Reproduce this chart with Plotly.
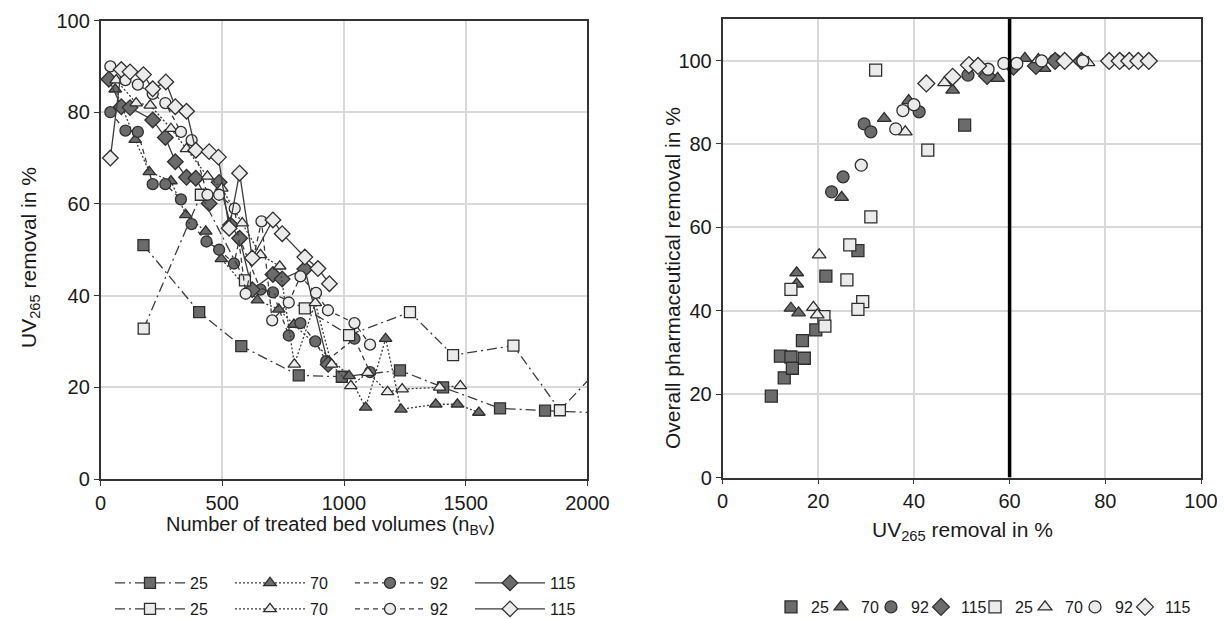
import plotly.graph_objects as go

# ---------------- Left panel: UV265 removal vs treated bed volumes ----------------
f25_x = [176, 405, 578, 814, 991, 1230, 1407, 1641, 1826, 2100]
f25_y = [51, 36.4, 29, 22.6, 22.3, 23.7, 20, 15.4, 14.9, 14.3]
o25_x = [177, 412, 593, 839, 1021, 1271, 1448, 1696, 1887, 2100]
o25_y = [32.8, 62, 43.3, 37.2, 31.4, 36.4, 27, 29.1, 15, 27]

f70_x = [60, 142, 200, 289, 350, 432, 496, 644, 732, 794, 1021, 1089, 1171, 1234, 1377, 1466, 1554]
f70_y = [85, 74, 67, 65, 57.6, 54, 48, 39, 37, 33.7, 22.5, 15.6, 30.6, 15.2, 16.3, 16.3, 14.5]
o70_x = [64, 146, 204, 289, 353, 439, 498, 582, 657, 736, 796, 882, 949, 1028, 1098, 1179, 1239, 1393, 1478]
o70_y = [87, 82, 81.5, 76.4, 72, 66, 63.4, 55.8, 48.9, 46.4, 25, 38.4, 25, 20.3, 23.2, 19, 19.6, 20, 20.3]

f92_x = [40, 102, 153, 214, 266, 330, 374, 435, 487, 548, 571, 657, 708, 773, 821, 882, 927, 1043, 1107]
f92_y = [80, 76, 75.7, 64.3, 64.3, 61, 55.6, 51.8, 50, 47, 52.5, 41.3, 40.7, 31.3, 34, 30, 25.7, 30.6, 23.3]
o92_x = [40, 102, 153, 214, 266, 330, 374, 439, 487, 551, 596, 661, 705, 773, 821, 885, 934, 1043, 1107]
o92_y = [90, 87, 86, 84, 82, 75.7, 73.9, 62, 62, 59, 40.4, 56.2, 34.6, 38.5, 44.2, 40.6, 36.8, 34, 29.3]

f115_x = [34, 85, 121, 214, 266, 307, 353, 391, 446, 487, 534, 571, 623, 708, 746, 839, 935]
f115_y = [87.2, 81.2, 81, 78.3, 74.5, 69.2, 65.8, 65.6, 60.1, 64.7, 55.4, 52.5, 41.3, 44.6, 43.6, 45.8, 25]
o115_x = [40, 85, 121, 176, 214, 268, 307, 353, 391, 446, 484, 528, 571, 623, 708, 746, 839, 893, 940]
o115_y = [70, 89.3, 88.8, 88.2, 85.1, 86.6, 81.2, 80.2, 71.7, 71.4, 70.2, 54.7, 66.7, 48.2, 56.5, 53.5, 48.4, 45.9, 42.6]

# ---------------- Right panel: pharmaceutical removal vs UV265 removal ----------------
rf25_x = [10.2, 12.9, 12.1, 14.3, 14.6, 17.1, 16.7, 19.5, 21.6, 28.3, 50.6]
rf25_y = [19.5, 23.9, 29.1, 28.9, 26.2, 28.6, 32.8, 35.4, 48.3, 54.4, 84.5]
ro25_x = [32.0, 42.9, 31.0, 26.6, 26.0, 29.3, 28.3, 14.3, 21.2, 21.4]
ro25_y = [97.7, 78.5, 62.5, 55.8, 47.4, 42.2, 40.3, 45.1, 38.6, 36.3]
rf70_x = [15.5, 15.5, 14.3, 15.9, 24.9, 33.8, 38.9, 48.1, 57.5, 63.2, 67.2, 82.6]
rf70_y = [49.1, 46.4, 40.6, 39.5, 67.2, 86.1, 90.4, 92.9, 95.7, 100.5, 98.1, 100]
ro70_x = [20.2, 19.0, 19.8, 38.2, 46.4, 66.0, 76.4]
ro70_y = [53.4, 40.8, 39.0, 82.9, 94.7, 100.2, 99.5]
rf92_x = [22.8, 25.2, 29.6, 31.0, 41.1, 51.3, 60.7, 65.7, 69.5]
rf92_y = [68.5, 72.1, 84.8, 82.9, 87.7, 96.5, 98.5, 98.9, 100.1]
ro92_x = [29.0, 36.2, 37.7, 40.0, 55.5, 58.8, 61.5, 66.7, 75.3, 83.2]
ro92_y = [74.9, 83.6, 88.0, 89.4, 97.9, 99.3, 99.3, 99.9, 99.9, 99.9]
rf115_x = [55.3, 60.8, 65.5, 69.5, 75.0]
rf115_y = [96.3, 98.5, 98.7, 99.9, 99.9]
ro115_x = [42.6, 48.1, 51.5, 53.4, 71.5, 80.8, 83.0, 85.0, 86.9, 89.1]
ro115_y = [94.5, 96.1, 98.9, 98.7, 99.9, 99.9, 99.9, 99.9, 99.9, 99.9]

uv_threshold = 60
labels = ["25", "70", "92", "115"]

FILL = "#6b6b6b"
OPEN = "#ebebeb"
EDGE = "#2e2e2e"
LINE = "#3c3c3c"
FONT = "Liberation Sans, Arial, sans-serif"
TXT = "#1a1a1a"

dashes = {"25": "10px,4px,2px,4px", "70": "2px,2px", "92": "5px,4px", "115": "solid"}
symbols = {"25": "square", "70": "triangle-up", "92": "circle", "115": "diamond"}
right_lw = [5, 5, 5, 9, 5, 5, 5, 30]

OFF = 8  # page offset of the plot div
W, H = 1225 - OFF, 619 - OFF


def PX(px):
    return (px - OFF) / W


def PY(py):
    return 1 - (py - OFF) / H


fig = go.Figure()

left_sets = [
    ("25", f25_x, f25_y, o25_x, o25_y),
    ("70", f70_x, f70_y, o70_x, o70_y),
    ("92", f92_x, f92_y, o92_x, o92_y),
    ("115", f115_x, f115_y, o115_x, o115_y),
]
for lab, fx, fy, ox, oy in left_sets:
    fig.add_trace(go.Scatter(
        x=fx, y=fy, mode="lines+markers", name=lab, legend="legend",
        line=dict(color=LINE, width=1.3, dash=dashes[lab]),
        marker=dict(symbol=symbols[lab], size=11 if lab != "115" else 12,
                    color=FILL, line=dict(color=EDGE, width=1.3)),
        xaxis="x", yaxis="y"))
for lab, fx, fy, ox, oy in left_sets:
    fig.add_trace(go.Scatter(
        x=ox, y=oy, mode="lines+markers", name=lab, legend="legend2",
        line=dict(color=LINE, width=1.3, dash=dashes[lab]),
        marker=dict(symbol=symbols[lab], size=11 if lab != "115" else 12,
                    color=OPEN, line=dict(color=EDGE, width=1.3)),
        xaxis="x", yaxis="y"))

right_sets = [
    ("25", rf25_x, rf25_y, FILL), ("70", rf70_x, rf70_y, FILL),
    ("92", rf92_x, rf92_y, FILL), ("115", rf115_x, rf115_y, FILL),
    ("25", ro25_x, ro25_y, OPEN), ("70", ro70_x, ro70_y, OPEN),
    ("92", ro92_x, ro92_y, OPEN), ("115", ro115_x, ro115_y, OPEN),
]
for i, (lab, rx, ry, col) in enumerate(right_sets):
    fig.add_trace(go.Scatter(
        x=rx, y=ry, mode="markers", name=lab, legend="legend3",
        legendwidth=right_lw[i],
        marker=dict(symbol=symbols[lab], size=12 if lab != "115" else 13,
                    color=col, line=dict(color=EDGE, width=1.3)),
        xaxis="x2", yaxis="y2"))

fig.add_shape(type="line", x0=uv_threshold, x1=uv_threshold, y0=0, y1=110,
              xref="x2", yref="y2", line=dict(color="black", width=3.5))

axis_common = dict(showline=True, linecolor="#333333", linewidth=1.5, mirror=True,
                   showgrid=True, gridcolor="#d9d9d9", gridwidth=1.5,
                   ticks="outside", ticklen=5, tickcolor="#333333",
                   tickfont=dict(size=20, color=TXT), zeroline=False, automargin=False)

fig.update_layout(
    width=W, height=H,
    margin=dict(l=0, r=0, t=0, b=0, autoexpand=False),
    paper_bgcolor="white", plot_bgcolor="white",
    font=dict(family=FONT, color=TXT),
    xaxis=dict(domain=[PX(100.6), PX(587.4)], range=[0, 2000], dtick=500,
               anchor="y", **axis_common),
    yaxis=dict(domain=[PY(479), PY(20.5)], range=[0, 100], dtick=20,
               anchor="x", **axis_common),
    xaxis2=dict(domain=[PX(722.5), PX(1201)], range=[0, 100], dtick=20,
                anchor="y2", **axis_common),
    yaxis2=dict(domain=[PY(477.5), PY(18.8)], range=[0, 110], tickvals=[0, 20, 40, 60, 80, 100],
                anchor="x2", **axis_common),
    legend=dict(orientation="h", x=PX(110), xanchor="left", y=PY(583), yanchor="middle",
                itemwidth=70, font=dict(size=16), bgcolor="rgba(0,0,0,0)",
                entrywidth=35, entrywidthmode="pixels"),
    legend2=dict(orientation="h", x=PX(110), xanchor="left", y=PY(609), yanchor="middle",
                 itemwidth=70, font=dict(size=16), bgcolor="rgba(0,0,0,0)",
                 entrywidth=35, entrywidthmode="pixels"),
    legend3=dict(orientation="h", x=PX(771), xanchor="left", y=PY(607), yanchor="middle",
                 itemwidth=30, font=dict(size=16), bgcolor="rgba(0,0,0,0)"),
    annotations=[
        dict(text="Number of treated bed volumes (n<sub>BV</sub>)", xref="paper", yref="paper",
             x=PX(330), y=PY(525), xanchor="center", yanchor="middle", showarrow=False,
             font=dict(size=20)),
        dict(text="UV<sub>265</sub> removal in %", xref="paper", yref="paper",
             x=PX(30), y=PY(258), xanchor="center", yanchor="middle", showarrow=False,
             textangle=-90, font=dict(size=21)),
        dict(text="UV<sub>265</sub> removal in %", xref="paper", yref="paper",
             x=PX(962), y=PY(531), xanchor="center", yanchor="middle", showarrow=False,
             font=dict(size=21)),
        dict(text="Overall pharmaceutical removal in %", xref="paper", yref="paper",
             x=PX(672), y=PY(278), xanchor="center", yanchor="middle", showarrow=False,
             textangle=-90, font=dict(size=21)),
    ],
)

fig.write_html("out.html")
